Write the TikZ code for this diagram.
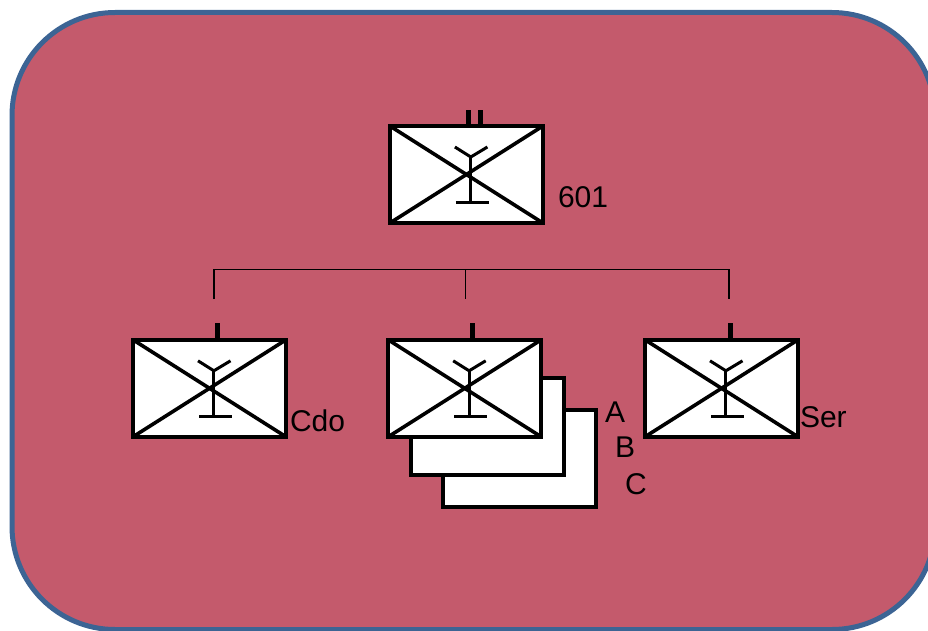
\documentclass[tikz,border=0pt]{standalone}
\usepackage{fontspec}
\setmainfont{Liberation Sans}
\definecolor{panelfill}{HTML}{C45A6C}
\definecolor{panelline}{HTML}{3C6494}
\tikzset{
  panel/.style={draw=panelline,fill=panelfill,line width=5pt,rounded corners=103pt},
  unit/.style={draw=black,fill=white,line width=4pt,rectangle,minimum width=153pt,minimum height=97pt,inner sep=0pt,outer sep=0pt},
  blank/.style={unit},
  cross/.style={draw=black,line width=3.6pt},
  ant/.style={draw=black,line width=3pt},
  tick/.style={draw=black,line width=5pt},
  bus/.style={draw=black,line width=1.5pt},
  lab/.style={inner sep=0pt,outer sep=0pt,font=\fontsize{30}{30}\selectfont,text=black},
  pics/unitmark/.style={code={
    \draw[ant] (4.4,-17.5) -- (4.4,28.5);
    \draw[ant] (-11.5,-27.5) -- (4.4,-17.5) -- (21,-27.5);
    \draw[ant] (-10.5,28) -- (22.5,28);
  }}
}
\newcommand{\unitcross}[1]{%
  \draw[cross] (#1.north west) -- (#1.south east);
  \draw[cross] (#1.north east) -- (#1.south west);
  \pic at (#1) {unitmark};
}
\begin{document}
\begin{tikzpicture}[x=1pt,y=-1pt]
\useasboundingbox (0,0) rectangle (928,631);
\clip (0,0) rectangle (928,631);
\draw[panel] (12,12.5) rectangle (935,629.5);

% bus
\coordinate (busL) at (214,269.5);
\coordinate (busM) at (465.5,269.5);
\coordinate (busR) at (729,269.5);
\coordinate (dropL) at (214,299);
\coordinate (dropM) at (465.5,299);
\coordinate (dropR) at (729,299);
\draw[bus] (dropL) -- (busL) -- (busR) -- (dropR);
\draw[bus] (busM) -- (dropM);

% stacked sheets
\node[blank] (c) at (519.2,458.5) {};
\node[blank] (b) at (487.2,426.5) {};

% units
\node[unit] (hq) at (466.4,174.5) {};
\node[unit] (cdo) at (209.5,388.3) {};
\node[unit] (a) at (464.7,388.3) {};
\node[unit] (ser) at (721.5,388.3) {};

\foreach \u in {hq,cdo,a,ser}{\unitcross{\u}}

% ticks
\draw[tick] ([xshift=2pt]hq.north) -- ++(0,-16);
\draw[tick] ([xshift=13.6pt]hq.north) -- ++(0,-16);
\draw[tick] ([xshift=7.5pt]cdo.north) -- ++(0,-17);
\draw[tick] ([xshift=8pt]a.north) -- ++(0,-17);
\draw[tick] ([xshift=8.5pt]ser.north) -- ++(0,-17);

% labels
\node[lab,anchor=west] (l601) at (558,197) {601};
\node[lab,anchor=west] (lcdo) at (290,421) {Cdo};
\node[lab,anchor=west] (lser) at (800,417) {Ser};
\node[lab,anchor=west] (la) at (605,412) {A};
\node[lab,anchor=west] (lb) at (615,447) {B};
\node[lab,anchor=west] (lc) at (625,484) {C};
\end{tikzpicture}
\end{document}
